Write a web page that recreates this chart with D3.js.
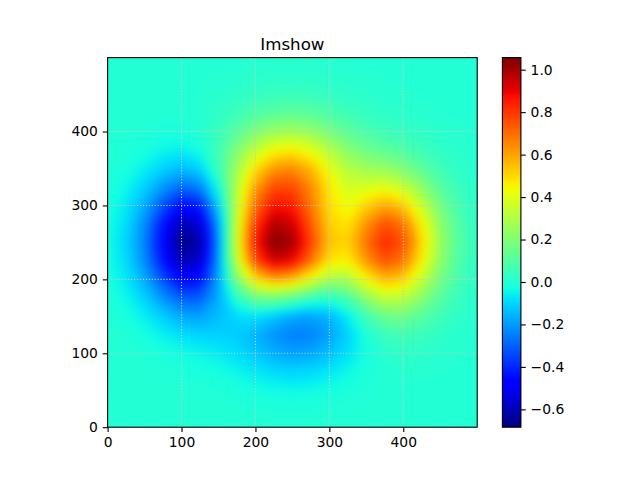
<!DOCTYPE html>
<html><head><meta charset="utf-8">
<style>html,body{margin:0;padding:0;background:#fff}svg{display:block}text{font-family:"DejaVu Sans",sans-serif;fill:#000}</style>
<script src="https://cdn.jsdelivr.net/npm/d3@7"></script>
</head><body><svg id="c" width="640" height="480"></svg>
<script>
const title = "Imshow";
const gridStep = 25;
const xTicks = [0,100,200,300,400];
const yTicks = [0,100,200,300,400];
const barTicks = [-0.6,-0.4,-0.2,0,0.2,0.4,0.6,0.8,1.0];
const valueMin = -0.684;
const valueMax = 1.057;
const jetStops = [0,.11,.125,.34,.35,.375,.64,.65,.66,.89,.91,1];
const jetColors = ["rgb(0,0,127)","rgb(0,0,255)","rgb(0,0,255)","rgb(0,219,255)","rgb(0,229,247)","rgb(21,255,226)","rgb(238,255,8)","rgb(247,246,0)","rgb(255,236,0)","rgb(255,19,0)","rgb(232,0,0)","rgb(127,0,0)"];
// rows run from the bottom of the image (y=0) to the top (y=500), one value every gridStep units
const heat = [
[0,0,0,0,0,0,-.001,-.001,-.002,-.003,-.003,-.003,-.002,-.001,-.001,0,0,0,0,0,0],
[0,0,0,0,-.001,-.002,-.003,-.006,-.009,-.012,-.013,-.012,-.009,-.006,-.003,-.001,0,0,0,0,0],
[0,0,-.001,-.002,-.004,-.007,-.011,-.018,-.028,-.037,-.040,-.037,-.029,-.018,-.008,-.002,.001,.001,.001,0,0],
[0,-.001,-.003,-.007,-.013,-.019,-.029,-.046,-.068,-.090,-.101,-.094,-.072,-.044,-.018,-.002,.005,.005,.003,.001,0],
[-.001,-.004,-.010,-.021,-.035,-.048,-.062,-.087,-.126,-.168,-.189,-.178,-.138,-.082,-.027,.008,.020,.017,.009,.004,.001],
[-.003,-.010,-.027,-.054,-.084,-.102,-.107,-.118,-.158,-.214,-.250,-.243,-.191,-.105,-.012,.050,.065,.048,.025,.010,.003],
[-.007,-.023,-.059,-.117,-.174,-.189,-.147,-.091,-.084,-.126,-.172,-.190,-.157,-.062,.065,.153,.160,.113,.058,.023,.007],
[-.013,-.043,-.109,-.214,-.309,-.308,-.171,.026,.153,.170,.121,.050,.015,.081,.228,.333,.319,.218,.110,.043,.013],
[-.021,-.067,-.171,-.332,-.471,-.446,-.183,.200,.490,.594,.547,.406,.274,.287,.442,.560,.514,.345,.174,.068,.021],
[-.027,-.088,-.223,-.432,-.610,-.566,-.198,.339,.762,.936,.889,.689,.479,.452,.621,.752,.680,.455,.228,.089,.027],
[-.03,-.10,-.24,-.47,-.67,-.62,-.21,.38,.85,1.05,1.00,.78,.54,.51,.69,.83,.75,.50,.25,.10,.03],
[-.027,-.088,-.223,-.432,-.608,-.560,-.187,.361,.797,.982,.939,.735,.514,.474,.632,.758,.682,.455,.228,.089,.027],
[-.021,-.067,-.170,-.328,-.459,-.414,-.112,.334,.700,.869,.848,.681,.484,.421,.514,.592,.526,.350,.175,.068,.021],
[-.013,-.043,-.108,-.206,-.283,-.240,-.017,.315,.606,.763,.769,.643,.468,.370,.382,.402,.344,.226,.112,.044,.013],
[-.007,-.023,-.057,-.107,-.142,-.103,.047,.273,.488,.623,.646,.559,.414,.302,.259,.239,.193,.123,.061,.023,.007],
[-.003,-.010,-.025,-.046,-.056,-.027,.062,.199,.338,.436,.461,.407,.305,.212,.157,.125,.092,.057,.028,.011,.003],
[-.001,-.004,-.009,-.016,-.017,0,.046,.117,.193,.250,.268,.239,.181,.122,.081,.056,.038,.022,.011,.004,.001],
[0,-.001,-.003,-.004,-.004,.004,.024,.055,.089,.116,.125,.113,.085,.056,.035,.022,.014,.007,.003,.001,0],
[0,0,0,-.001,0,.003,.010,.021,.033,.043,.047,.042,.032,.021,.013,.007,.004,.002,.001,0,0],
[0,0,0,0,0,.001,.003,.006,.010,.013,.014,.013,.010,.006,.004,.002,.001,0,0,0,0],
[0,0,0,0,0,0,.001,.001,.002,.003,.003,.003,.002,.001,.001,0,0,0,0,0,0]
];

const svg = d3.select("#c");
const left = 107.6, right = 477.2, top_ = 57.6, bottom = 427.2;
const barL = 502.4, barR = 520.9, lw = 1.11, tickLen = 4.86, fs = 13.89;
const x = d3.scaleLinear().domain([0,500]).range([left,right]);
const y = d3.scaleLinear().domain([0,500]).range([bottom,top_]);
const jet = d3.scaleLinear().domain(jetStops).range(jetColors).interpolate(d3.interpolateRgb);
const norm = d3.scaleLinear().domain([valueMin,valueMax]).range([0,1]);
const levels = 256;
const levelValues = d3.range(levels).map(i => norm.invert(i/levels));
const levelColor = i => jet((i+.5)/levels);

const defs = svg.append("defs");
defs.append("clipPath").attr("id","ax").append("rect")
  .attr("x",left).attr("y",top_).attr("width",right-left).attr("height",bottom-top_);
const soft = defs.append("filter").attr("id","soft").attr("filterUnits","userSpaceOnUse")
  .attr("x",left-40).attr("y",top_-40).attr("width",right-left+80).attr("height",bottom-top_+80)
  .attr("color-interpolation-filters","sRGB");
soft.append("feGaussianBlur").attr("stdDeviation",4);

const plot = svg.append("g").attr("clip-path","url(#ax)");
const image = plot.append("g").attr("filter","url(#soft)");
image.append("rect").attr("x",left-40).attr("y",top_-40).attr("width",right-left+80).attr("height",bottom-top_+80).attr("fill",levelColor(80));

const ny = heat.length, nx = heat[0].length;
const flat = heat.flat();
const contours = d3.contours().size([nx,ny]).thresholds(levelValues)(flat);
const path = d3.geoPath(d3.geoTransform({point(a,b){this.stream.point(x((a-.5)*gridStep),y((b-.5)*gridStep));}}));
image.selectAll("path.band").data(contours).join("path").attr("class","band")
  .attr("d",path).attr("fill",(d,i)=>levelColor(i));

const gridStyle = s => s.attr("stroke","#c8c8c8").attr("stroke-width",lw).attr("stroke-dasharray","1.11 1.83");
plot.selectAll("line.gx").data(xTicks).join("line").attr("class","gx").attr("x1",x).attr("x2",x).attr("y1",bottom).attr("y2",top_).call(gridStyle);
plot.selectAll("line.gy").data(yTicks).join("line").attr("class","gy").attr("y1",y).attr("y2",y).attr("x1",left).attr("x2",right).call(gridStyle);

function styleAxis(g){
  g.selectAll(".domain").remove();
  g.selectAll(".tick line").attr("stroke","#000").attr("stroke-width",lw);
  g.selectAll(".tick text").attr("font-size",fs).attr("font-family",'"DejaVu Sans",sans-serif').attr("fill","#000");
}
svg.append("g").attr("transform",`translate(0,${bottom})`)
  .call(d3.axisBottom(x).tickValues(xTicks).tickSize(tickLen).tickPadding(4.86).tickFormat(d3.format("d"))).call(styleAxis);
svg.append("g").attr("transform",`translate(${left},0)`)
  .call(d3.axisLeft(y).tickValues(yTicks).tickSize(tickLen).tickPadding(4.86).tickFormat(d3.format("d"))).call(styleAxis);
svg.append("rect").attr("x",left).attr("y",top_).attr("width",right-left).attr("height",bottom-top_)
  .attr("fill","none").attr("stroke","#000").attr("stroke-width",lw);

svg.append("text").attr("x",(left+right)/2).attr("y",49.5).attr("text-anchor","middle").attr("font-size",16.67).text(title);

const yBar = d3.scaleLinear().domain([valueMin,valueMax]).range([bottom,top_]);
svg.append("g").selectAll("rect").data(levelValues).join("rect")
  .attr("x",barL).attr("width",barR-barL)
  .attr("y",top_)
  .attr("height",d=>yBar(d)-top_)
  .attr("fill",(d,i)=>levelColor(i));
const fmt = d => (d<0?"\u2212":"")+Math.abs(d).toFixed(1);
svg.append("g").attr("transform",`translate(${barR},0)`)
  .call(d3.axisRight(yBar).tickValues(barTicks).tickSize(tickLen).tickPadding(4.86).tickFormat(fmt)).call(styleAxis);
svg.append("rect").attr("x",barL).attr("y",top_).attr("width",barR-barL).attr("height",bottom-top_)
  .attr("fill","none").attr("stroke","#000").attr("stroke-width",lw);
</script></body></html>
